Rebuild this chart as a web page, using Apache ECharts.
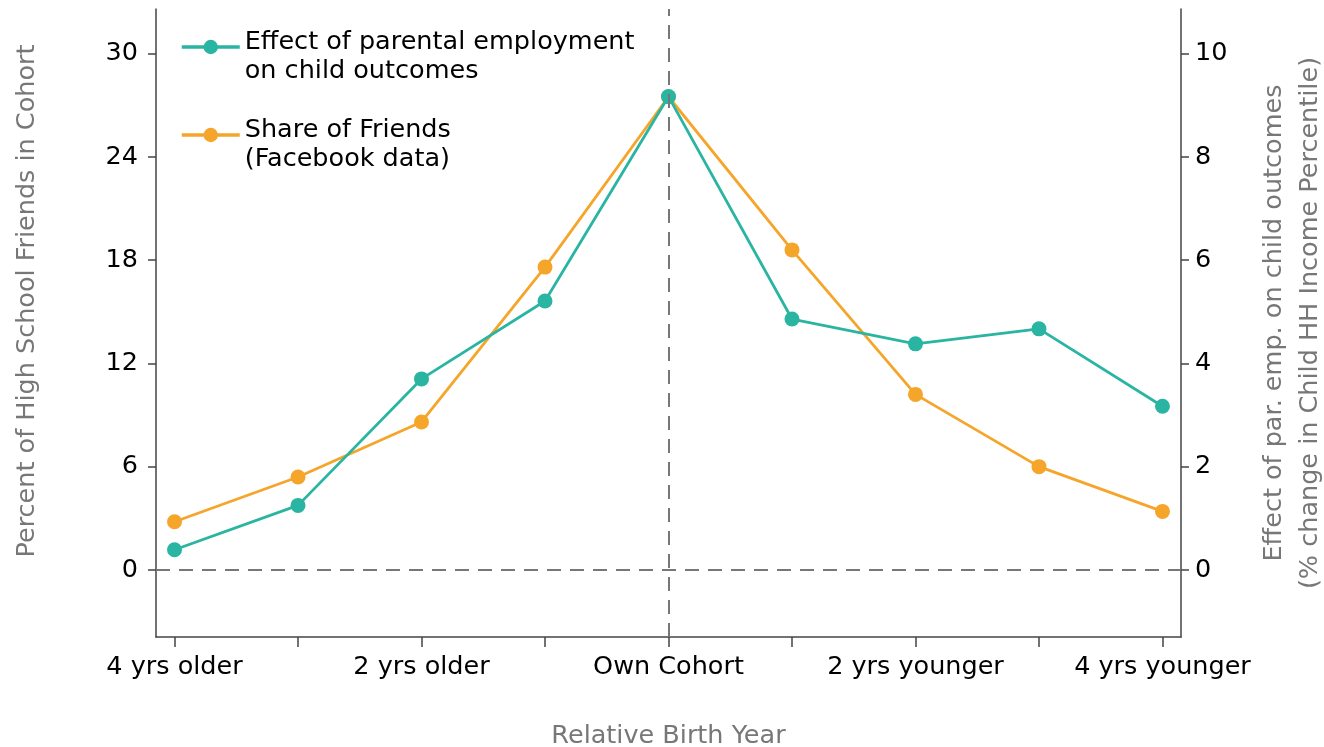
<!DOCTYPE html>
<html>
<head>
<meta charset="utf-8">
<script src="https://cdn.jsdelivr.net/npm/echarts@6/dist/echarts.min.js"></script>
<style>
	html, body { margin: 0; padding: 0; background: #ffffff; }
	#chart { width: 1324px; height: 747px; }
</style>
</head>
<body>
<div id="chart"></div>
<script>
	// relative birth year (-4 = 4 yrs older ... 4 = 4 yrs younger)
	var relYears = [-4, -3, -2, -1, 0, 1, 2, 3, 4];
	var xTickVals = [-4, -3, -2, -1, 0, 1, 2, 3, 4];
	var xLabelVals = [-4, -2, 0, 2, 4];
	var xLabelText = {'-4': '4 yrs older', '-2': '2 yrs older', '0': 'Own Cohort', '2': '2 yrs younger', '4': '4 yrs younger'};
	var leftTicks = [0, 6, 12, 18, 24, 30];
	var rightTicks = [0, 2, 4, 6, 8, 10];

	// share of friends, percent (left axis)
	var shareFriends = [2.8, 5.4, 8.6, 17.6, 27.5, 18.6, 10.2, 6.0, 3.4];
	// effect of parental employment, % change (right axis)
	var parEffect = [0.39, 1.25, 3.70, 5.21, 9.17, 4.86, 4.38, 4.67, 3.17];

	var teal = '#2ab5a2';
	var orange = '#f5a52a';
	var fontFam = 'DejaVu Sans';
	var fs = 25.5;

	var chart = echarts.init(document.getElementById('chart'));

	function pairs(vals) {
		return relYears.map(function (x, i) { return [x, vals[i]]; });
	}

	var option = {
		backgroundColor: '#ffffff',
		animation: false,
		textStyle: { fontFamily: fontFam },
		grid: { left: 156, right: 143, top: 9, bottom: 110, outerBoundsMode: 'none', containLabel: false },
		legend: {
			left: 180,
			top: 8,
			padding: 0,
			orient: 'vertical',
			itemWidth: 58,
			itemHeight: 18,
			itemGap: 10,
			lineStyle: { width: 3.5 },
			data: ['Effect of parental employment\non child outcomes', 'Share of Friends\n(Facebook data)'],
			// empty spacer line on top so the icon sits next to the first text line
			formatter: function (name) { return '{s| }\n' + name; },
			textStyle: {
				fontSize: fs, color: '#000', lineHeight: 29, fontFamily: fontFam,
				rich: { s: { fontSize: 4, lineHeight: 20 } }
			}
		},
		xAxis: {
			type: 'value',
			min: -4.15,
			max: 4.15,
			splitLine: { show: false },
			axisLine: { show: true, onZero: false, lineStyle: { color: '#444', width: 1.5 } },
			axisTick: { show: true, length: 10, customValues: xTickVals, lineStyle: { color: '#444', width: 1.5 } },
			axisLabel: {
				customValues: xLabelVals,
				fontSize: fs, color: '#000', margin: 17, fontFamily: fontFam,
				formatter: function (v) { return xLabelText[String(Math.round(v))] || ''; }
			},
			name: 'Relative Birth Year',
			nameLocation: 'middle',
			nameGap: 86,
			nameTextStyle: { fontSize: fs, color: '#777', fontFamily: fontFam }
		},
		yAxis: [{
			type: 'value',
			min: -3.9,
			max: 32.6,
			splitLine: { show: false },
			axisLine: { show: true, onZero: false, lineStyle: { color: '#444', width: 1.5 } },
			axisTick: { show: true, length: 8, customValues: leftTicks, lineStyle: { color: '#444', width: 1.5 } },
			axisLabel: { customValues: leftTicks, fontSize: fs, color: '#000', margin: 18, fontFamily: fontFam },
			name: 'Percent of High School Friends in Cohort',
			nameLocation: 'middle',
			nameRotate: 90,
			nameGap: 116,
			nameTextStyle: { fontSize: fs, color: '#777', fontFamily: fontFam, padding: [0, 0, 0, 44] }
		}, {
			type: 'value',
			position: 'right',
			min: -1.3,
			max: 10.867,
			splitLine: { show: false },
			axisLine: { show: true, onZero: false, lineStyle: { color: '#444', width: 1.5 } },
			axisTick: { show: true, length: 8, customValues: rightTicks, lineStyle: { color: '#444', width: 1.5 } },
			axisLabel: { customValues: rightTicks, fontSize: fs, color: '#000', margin: 14, fontFamily: fontFam },
			name: 'Effect of par. emp. on child outcomes\n(% change in Child HH Income Percentile)',
			nameLocation: 'middle',
			nameRotate: 90,
			nameGap: 75,
			nameTextStyle: { fontSize: fs, color: '#777', lineHeight: 36, fontFamily: fontFam, align: 'center', verticalAlign: 'top' }
		}],
		series: [{
			name: 'Share of Friends\n(Facebook data)',
			type: 'line',
			yAxisIndex: 0,
			data: pairs(shareFriends),
			symbol: 'circle',
			symbolSize: 15,
			color: orange,
			lineStyle: { width: 2.8, color: orange },
			itemStyle: { color: orange },
			z: 3,
			markLine: {
				silent: true,
				symbol: 'none',
				label: { show: false },
				lineStyle: { color: '#777', type: [14, 9], width: 2 },
				data: [{ xAxis: 0 }, { yAxis: 0 }]
			}
		}, {
			name: 'Effect of parental employment\non child outcomes',
			type: 'line',
			yAxisIndex: 1,
			data: pairs(parEffect),
			symbol: 'circle',
			symbolSize: 15,
			color: teal,
			lineStyle: { width: 2.8, color: teal },
			itemStyle: { color: teal },
			z: 4
		}]
	};

	chart.setOption(option);
</script>
</body>
</html>
